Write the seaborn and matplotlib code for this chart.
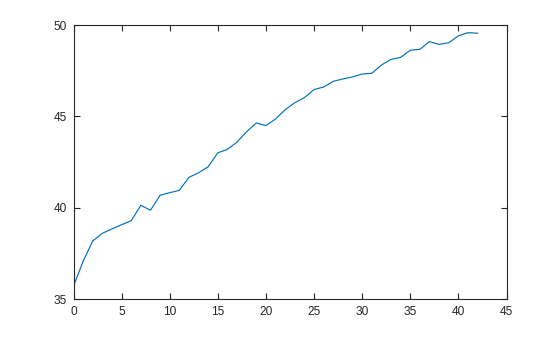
import matplotlib
matplotlib.use("Agg")
import matplotlib.pyplot as plt
import seaborn as sns
import pandas as pd

x_values = list(range(0, 43))
y_values = [35.72, 37.08, 38.19, 38.61, 38.85, 39.08, 39.30, 40.14, 39.87, 40.69,
            40.83, 40.96, 41.67, 41.92, 42.25, 43.01, 43.20, 43.60, 44.17, 44.64,
            44.50, 44.86, 45.37, 45.75, 46.03, 46.47, 46.61, 46.92, 47.05, 47.16,
            47.32, 47.36, 47.81, 48.12, 48.23, 48.62, 48.67, 49.09, 48.94, 49.03,
            49.41, 49.58, 49.55]
x_ticks = [0, 5, 10, 15, 20, 25, 30, 35, 40, 45]
y_ticks = [35, 40, 45, 50]

df = pd.DataFrame({"x": x_values, "y": y_values})

sns.set_theme(style="white")
plt.rcParams['font.family'] = ['Liberation Sans', 'DejaVu Sans']

fig = plt.figure(figsize=(5.6, 3.37), dpi=100)
ax = fig.add_axes([73.5 / 560, 1 - 299.3 / 337, (506.5 - 73.5) / 560, (299.3 - 25) / 337])
sns.lineplot(data=df, x="x", y="y", ax=ax, color="#0072BD", linewidth=0.85)

ax.set_xlim(0, 45)
ax.set_ylim(35, 50)
ax.set_xticks(x_ticks)
ax.set_yticks(y_ticks)
ax.set_xlabel("")
ax.set_ylabel("")
axc = "#262626"
for s in ax.spines.values():
    s.set_color(axc)
    s.set_linewidth(0.8)
ax.tick_params(direction="in", length=4, width=0.8, colors=axc, labelsize=8.6,
               top=True, right=True, bottom=True, left=True)
ax.tick_params(axis="x", pad=5)
ax.tick_params(axis="y", pad=4.5)
for lab in ax.get_xticklabels() + ax.get_yticklabels():
    lab.set_color("#262626")

fig.savefig("out.png", dpi=100)
